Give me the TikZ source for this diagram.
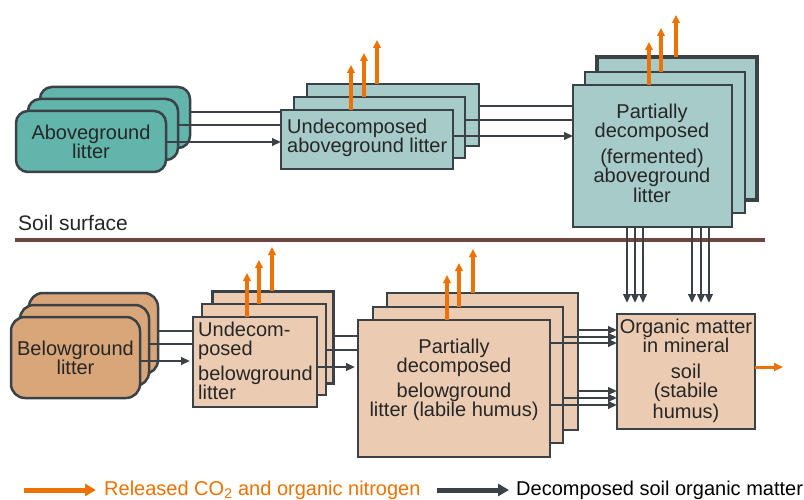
\documentclass[tikz,border=0pt]{standalone}
\usepackage{fontspec}
\setmainfont{Liberation Sans}
\usetikzlibrary{arrows.meta}
\definecolor{tealdark}{HTML}{62B5AB}
\definecolor{teallight}{HTML}{A6CBC9}
\definecolor{tandark}{HTML}{D9A67A}
\definecolor{tanlight}{HTML}{EBCCB2}
\definecolor{bordc}{HTML}{3A4248}
\definecolor{orng}{HTML}{EE7203}
\definecolor{soilc}{HTML}{6E4540}
\definecolor{txtc}{HTML}{262626}
\begin{document}
\begin{tikzpicture}[x=1pt,y=-1pt,
  box/.style={draw=bordc, line width=2.5pt, anchor=north west, inner sep=0pt, outer sep=0pt},
  agbox/.style={box, fill=tealdark, rounded corners=12pt, minimum width=150pt, minimum height=61pt},
  bgbox/.style={box, fill=tandark, rounded corners=14pt, minimum width=129pt, minimum height=81pt},
  tbox/.style={box, fill=teallight},
  pbox/.style={box, fill=tanlight},
  txt/.style={text=txtc, font=\fontsize{20}{19}\selectfont, inner sep=0pt},
  dline/.style={draw=bordc, line width=2.6pt},
  darr/.style={dline, -{Triangle[length=9pt,width=7.5pt]}},
  oarr/.style={draw=orng, line width=3.5pt, -{Triangle[length=8pt,width=7.5pt]}}
]
\useasboundingbox (0,0) rectangle (804,500);
\fill[white] (0,0) rectangle (804,500);

% soil surface
\coordinate (sl) at (15,240);
\coordinate (sr) at (765,240);
\draw[draw=soilc, line width=4pt] (sl) -- (sr);
\node[anchor=base west, text=txtc, font=\fontsize{21}{21}\selectfont, inner sep=0pt] (soiltxt) at (18,230) {Soil surface};

% aboveground litter
\node[agbox] (ag3) at (40,87) {};
\node[agbox] (ag2) at (28,99) {};
\node[agbox, txt, align=center] (ag1) at (16,111) {Aboveground\\litter};

% undecomposed aboveground
\node[tbox, minimum width=172pt, minimum height=62pt] (ua3) at (307,84) {};
\node[tbox, minimum width=171pt, minimum height=61pt] (ua2) at (294,97) {};
\node[tbox, minimum width=172pt, minimum height=59pt] (ua1) at (281,110) {};
\node[txt, align=left, anchor=west] (uat) at (287,138) {Undecomposed\\aboveground litter};

% partially decomposed aboveground
\node[tbox, line width=3.5pt, minimum width=160pt, minimum height=143pt] (pa3) at (597,57) {};
\node[tbox, minimum width=160pt, minimum height=141pt] (pa2) at (585,72) {};
\node[tbox, minimum width=159pt, minimum height=142pt] (pa1) at (573,85) {};
\node[txt, align=center] (pat) at (652,153) {Partially\\decomposed\\[7pt](fermented)\\aboveground\\[1pt]litter};

% belowground litter
\node[bgbox] (bg3) at (29,293) {};
\node[bgbox] (bg2) at (20,305) {};
\node[bgbox, txt, align=center] (bg1) at (11,317) {Belowground\\litter};

% undecomposed belowground
\node[pbox, line width=3pt, minimum width=121pt, minimum height=92pt] (ub3) at (212,291) {};
\node[pbox, minimum width=124pt, minimum height=91pt] (ub2) at (202,304) {};
\node[pbox, minimum width=124pt, minimum height=90pt] (ub1) at (193,317) {};
\node[txt, align=left, anchor=west] (ubt) at (198,361) {Undecom-\\posed\\[6pt]belowground\\litter};

% partially decomposed belowground
\node[pbox, minimum width=191pt, minimum height=137pt] (pb3) at (387,293) {};
\node[pbox, minimum width=190pt, minimum height=136pt] (pb2) at (373,307) {};
\node[pbox, minimum width=192pt, minimum height=137pt] (pb1) at (358,320) {};
\node[txt, align=center] (pbt) at (454,380) {Partially\\decomposed\\[6pt]belowground\\litter (labile humus)};

% organic matter in mineral soil
\node[pbox, minimum width=138pt, minimum height=115pt] (om) at (617,314) {};
\node[txt, align=center] (omt) at (686,371) {Organic matter\\in mineral\\[7pt]soil\\(stabile\\[2pt]humus)};

% connectors aboveground -> undecomposed
\draw[dline] (ag3.east |- 0,112) -- (ua1.west |- 0,112);
\draw[dline] (ag2.east |- 0,125) -- (ua1.west |- 0,125);
\draw[darr] (ag1.east |- 0,142) -- (ua1.west |- 0,142);

% undecomposed -> partially (above)
\draw[dline] (ua3.east |- 0,106) -- (pa1.west |- 0,106);
\draw[dline] (ua2.east |- 0,120) -- (pa1.west |- 0,120);
\draw[darr] (ua1.east |- 0,136) -- (pa1.west |- 0,136);

% belowground -> undecomposed
\draw[dline] (bg3.east |- 0,331) -- (ub1.west |- 0,331);
\draw[dline] (bg2.east |- 0,344) -- (ub1.west |- 0,344);
\draw[darr, shorten >=3pt] (bg1.east |- 0,361) -- (ub1.west |- 0,361);

% undecomposed -> partially (below)
\draw[dline] (ub3.east |- 0,336) -- (pb1.west |- 0,336);
\draw[dline] (ub2.east |- 0,350) -- (pb1.west |- 0,350);
\draw[darr, shorten >=3pt] (ub1.east |- 0,367) -- (pb1.west |- 0,367);

% partially (below) -> organic matter
\draw[darr] (pb3.east |- 0,330) -- (om.west |- 0,330);
\draw[darr] (pb2.east |- 0,337) -- (om.west |- 0,337);
\draw[darr] (pb1.east |- 0,343) -- (om.west |- 0,343);
\draw[darr] (pb3.east |- 0,391) -- (om.west |- 0,391);
\draw[darr] (pb2.east |- 0,398) -- (om.west |- 0,398);
\draw[darr] (pb1.east |- 0,405) -- (om.west |- 0,405);

% partially (above) -> organic matter
\foreach \xx in {627,635,643,692,701,709}{
  \draw[darr, shorten >=11pt] (pa1.south -| \xx,0) -- (om.north -| \xx,0);
}

% released CO2 arrows
\draw[oarr] (ua1.north -| 351,0) -- ++(0,-45);
\draw[oarr] (ua2.north -| 364,0) -- ++(0,-44);
\draw[oarr] (ua3.north -| 377,0) -- ++(0,-44);
\draw[oarr] (pa1.north -| 649,0) -- ++(0,-43);
\draw[oarr] (pa2.north -| 661,0) -- ++(0,-44);
\draw[oarr] (pa3.north -| 676,0) -- ++(0,-42);
\draw[oarr] (ub1.north -| 247,0) -- ++(0,-44);
\draw[oarr] (ub2.north -| 259,0) -- ++(0,-44);
\draw[oarr] (ub3.north -| 272,0) -- ++(0,-44);
\draw[oarr] (pb1.north -| 447,0) -- ++(0,-45);
\draw[oarr] (pb2.north -| 459,0) -- ++(0,-44);
\draw[oarr] (pb3.north -| 473,0) -- ++(0,-44);
\draw[draw=orng, line width=3pt, -{Triangle[length=9pt,width=8pt]}] (om.east |- 0,367) -- ++(28,0);

% legend
\coordinate (lo1) at (24,490);
\coordinate (lo2) at (96,490);
\draw[draw=orng, line width=5pt, -{Triangle[length=11pt,width=12pt]}] (lo1) -- (lo2);
\node[anchor=base west, text=orng, font=\fontsize{20}{20}\selectfont, inner sep=0pt] (lotxt) at (104,495) {Released CO\textsubscript{2} and organic nitrogen};
\coordinate (ld1) at (437,490);
\coordinate (ld2) at (509,490);
\draw[draw=bordc, line width=5pt, -{Triangle[length=11pt,width=12pt]}] (ld1) -- (ld2);
\node[anchor=base west, text=black, font=\fontsize{20}{20}\selectfont, inner sep=0pt] (ldtxt) at (516,495) {Decomposed soil organic matter};
\end{tikzpicture}
\end{document}
